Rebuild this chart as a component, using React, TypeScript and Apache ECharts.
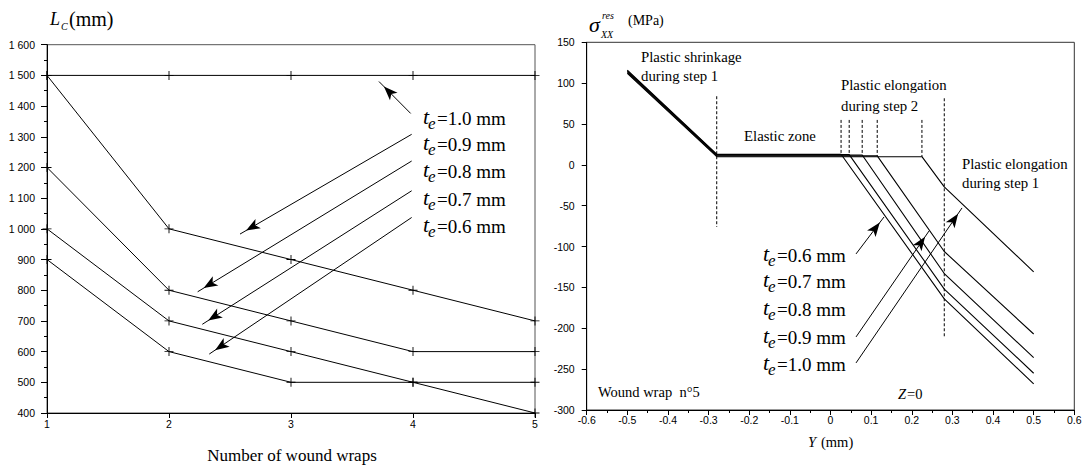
import React, { useEffect, useRef } from "react";
import * as echarts from "echarts";

// ---------- Left panel: L_C versus number of wound wraps ----------
const wraps = [1, 2, 3, 4, 5];
const lcTe10 = [1500, 1500, 1500, 1500, 1500];
const lcTe09 = [1500, 1000, 900, 800, 700];
const lcTe08 = [1200, 800, 700, 600, 600];
const lcTe07 = [1000, 700, 600, 500, 400];
const lcTe06 = [900, 600, 500, 500, 500];
const leftSeries = [lcTe10, lcTe09, lcTe08, lcTe07, lcTe06];
const leftLabelTexts = ["=1.0 mm", "=0.9 mm", "=0.8 mm", "=0.7 mm", "=0.6 mm"];
// annotation arrows [xFrom, yFrom, xTo, yTo] in data units
const leftArrows = [
  [3.981, 1376, 3.721, 1480],
  [3.989, 1308, 2.582, 983],
  [3.989, 1221, 2.235, 795],
  [3.989, 1124, 2.273, 689],
  [3.989, 1037, 2.33, 592],
];

// ---------- Right panel: residual stress sigma_XX vs Y ----------
const yTe06 = [-0.5, -0.28, 0.026, 0.28, 0.5];
const sTe06 = [116, 13, 13, -164, -268];
const yTe07 = [-0.5, -0.28, 0.046, 0.28, 0.5];
const sTe07 = [115, 12.5, 12.5, -152, -255];
const yTe08 = [-0.5, -0.28, 0.078, 0.28, 0.5];
const sTe08 = [114, 12, 12, -133, -236];
const yTe09 = [-0.5, -0.28, 0.115, 0.28, 0.5];
const sTe09 = [113, 11, 11, -106, -207];
const yTe10 = [-0.5, -0.28, 0.225, 0.28, 0.5];
const sTe10 = [112, 10, 10, -27, -131];
const rightY = [yTe06, yTe07, yTe08, yTe09, yTe10];
const rightS = [sTe06, sTe07, sTe08, sTe09, sTe10];
const rightLabelTexts = ["=0.6 mm", "=0.7 mm", "=0.8 mm", "=0.9 mm", "=1.0 mm"];
// dashed zone limits
const dashX = [-0.28, 0.026, 0.046, 0.078, 0.115, 0.225, 0.28];
const dashTop = [84, 55, 55, 55, 55, 55, 81.5];
const dashBottom = [-76, 13, 12.5, 12, 11, 10, -212];
const rightArrows = [
  [0.0628, -109, 0.1317, -63.8],
  [0.0628, -210.6, 0.2425, -80.9],
  [0.0628, -242.4, 0.3237, -52.7],
];

const SERIF = '"Liberation Serif", "Times New Roman", serif';
const SANS = '"Liberation Sans", Arial, sans-serif';
const PLUS = "path://M4.5,0H5.5V4.5H10V5.5H5.5V10H4.5V5.5H0V4.5H4.5Z";

function txt(x: number, y: number, text: string, font: string, align = "left") {
  return {
    type: "text",
    x,
    y,
    silent: true,
    style: { text, font, fill: "#000", textAlign: align, textVerticalAlign: "middle" },
  };
}

function teLabel(x: number, y: number, rest: string) {
  return [
    txt(x, y - 2, "t", `italic 22px ${SERIF}`),
    txt(x + 5, y + 5, "e", `italic 17px ${SERIF}`),
    txt(x + 14, y, rest, `19px ${SERIF}`),
  ];
}

function arrowLine(a: number[]) {
  return [
    { coord: [a[0], a[1]], symbol: "none" },
    { coord: [a[2], a[3]], symbol: "arrow", symbolSize: [8, 14], symbolOffset: [0, 7] },
  ];
}

const markLineBase = {
  silent: true,
  symbol: ["none", "arrow"],
  label: { show: false },
  lineStyle: { color: "#000", width: 1, type: "solid" },
  emphasis: { disabled: true },
};

export default function App() {
  const ref = useRef<HTMLDivElement>(null);
  useEffect(() => {
    if (!ref.current) return;
    const chart = echarts.init(ref.current, undefined, { renderer: "svg" });

    const axisCommon = {
      axisLine: { show: true, onZero: false, lineStyle: { color: "#000", width: 1 } },
      splitLine: { show: false },
      axisLabel: { color: "#000", fontSize: 10.5, fontFamily: SANS },
    };

    const leftLineSeries = leftSeries.map((vals, k) => ({
      type: "line",
      xAxisIndex: 0,
      yAxisIndex: 0,
      data: wraps.map((w, i) => [w, vals[i]]),
      symbol: PLUS,
      symbolSize: 9,
      showSymbol: true,
      lineStyle: { color: "#000", width: 1 },
      itemStyle: { color: "#000" },
      z: 3,
      markLine:
        k === 0
          ? { ...markLineBase, data: leftArrows.map(arrowLine) }
          : undefined,
    }));

    const rightLineSeries = rightY.map((ys, k) => ({
      type: "line",
      xAxisIndex: 1,
      yAxisIndex: 1,
      data: ys.map((y, i) => [y, rightS[k][i]]),
      symbol: "none",
      lineStyle: { color: "#000", width: 1.1 },
      z: 3,
      markLine:
        k === 0
          ? { ...markLineBase, data: rightArrows.map(arrowLine) }
          : undefined,
    }));

    const dashSeries = dashX.map((x, i) => ({
      type: "line",
      xAxisIndex: 1,
      yAxisIndex: 1,
      data: [
        [x, dashTop[i]],
        [x, dashBottom[i]],
      ],
      symbol: "none",
      lineStyle: { color: "#000", width: 1, type: [3, 2] },
      z: 2,
    }));

    const graphics: any[] = [
      // left axis titles
      txt(50, 19, "L", `italic 18px ${SERIF}`),
      txt(61, 26, "C", `italic 10px ${SERIF}`),
      txt(69, 19, "(mm)", `20px ${SERIF}`),
      txt(292, 455, "Number of wound wraps", `17px ${SERIF}`, "center"),
      // right axis titles
      txt(589, 24, "\u03c3", `italic 22px ${SERIF}`),
      txt(602, 15, "res", `italic 10px ${SERIF}`),
      txt(601, 34, "XX", `italic 10px ${SERIF}`),
      txt(628, 20, "(MPa)", `14px ${SERIF}`),
      txt(808, 442, "Y", `italic 14.5px ${SERIF}`),
      txt(821, 442, "(mm)", `14.5px ${SERIF}`),
      // right annotations
      txt(641, 57, "Plastic shrinkage", `14.8px ${SERIF}`),
      txt(641, 76, "during step 1", `14.8px ${SERIF}`),
      txt(744, 136, "Elastic zone", `14.8px ${SERIF}`),
      txt(841, 85, "Plastic elongation", `14.8px ${SERIF}`),
      txt(841, 106, "during step 2", `14.8px ${SERIF}`),
      txt(962, 164, "Plastic elongation", `14.8px ${SERIF}`),
      txt(962, 183, "during step 1", `14.8px ${SERIF}`),
      txt(598, 392, "Wound wrap\u00a0\u00a0n\u00b05", `14.5px ${SERIF}`),
      txt(898, 394, "Z", `italic 14.5px ${SERIF}`),
      txt(907, 394, "=0", `14.5px ${SERIF}`),
    ];
    const leftRows = [118.8, 144, 171, 199, 226];
    leftLabelTexts.forEach((t, i) => graphics.push(...teLabel(423, leftRows[i], t)));
    const rightRows = [255, 281.7, 309, 337.3, 364.3];
    rightLabelTexts.forEach((t, i) => graphics.push(...teLabel(763, rightRows[i], t)));

    chart.setOption({
      animation: false,
      backgroundColor: "#fff",
      grid: [
        { left: 47, right: 550, top: 44.7, bottom: 53, show: true, borderColor: "#555", borderWidth: 1, backgroundColor: "transparent" },
        { left: 586.7, right: 10.7, top: 42.3, bottom: 56, show: true, borderColor: "#333", borderWidth: 1, backgroundColor: "transparent" },
      ],
      xAxis: [
        {
          ...axisCommon,
          gridIndex: 0,
          type: "value",
          min: 1,
          max: 5,
          interval: 1,
          axisTick: { show: true, length: 5, lineStyle: { color: "#000" } },
          axisLabel: { ...axisCommon.axisLabel, margin: 5 },
        },
        {
          ...axisCommon,
          gridIndex: 1,
          type: "value",
          min: -0.6,
          max: 0.6,
          interval: 0.1,
          axisTick: { show: true, length: 5, lineStyle: { color: "#000" } },
          minorTick: { show: true, splitNumber: 2, length: 3, lineStyle: { color: "#000" } },
          axisLabel: {
            ...axisCommon.axisLabel,
            margin: 4,
            formatter: (v: number) => {
              const r = Math.round(v * 10) / 10;
              return r === 0 ? "0" : String(r);
            },
          },
        },
      ],
      yAxis: [
        {
          ...axisCommon,
          gridIndex: 0,
          type: "value",
          min: 400,
          max: 1600,
          interval: 100,
          axisTick: { show: true, length: 6, lineStyle: { color: "#000" } },
          minorTick: { show: true, splitNumber: 2, length: 3, lineStyle: { color: "#000" } },
          axisLabel: {
            ...axisCommon.axisLabel,
            margin: 12,
            formatter: (v: number) =>
              v >= 1000 ? `${Math.floor(v / 1000)} ${String(v % 1000).padStart(3, "0")}` : `${v}`,
          },
        },
        {
          ...axisCommon,
          gridIndex: 1,
          type: "value",
          min: -300,
          max: 150,
          interval: 50,
          axisTick: { show: true, length: 5, lineStyle: { color: "#000" } },
          axisLabel: { ...axisCommon.axisLabel, margin: 12 },
        },
      ],
      series: [...leftLineSeries, ...dashSeries, ...rightLineSeries],
      graphic: graphics,
    } as any);

    return () => chart.dispose();
  }, []);

  return (
    <div
      ref={ref}
      style={{ position: "fixed", left: 0, top: 0, width: 1085, height: 466, background: "#fff" }}
    />
  );
}
